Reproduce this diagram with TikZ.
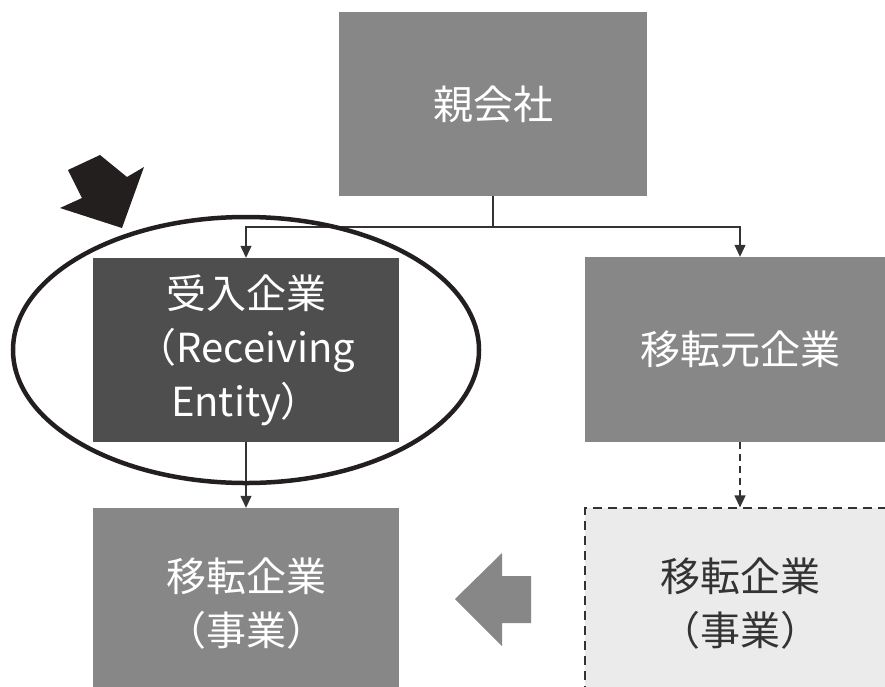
\documentclass[tikz,border=0pt]{standalone}
\usepackage{fontspec}
\setmainfont{Noto Sans CJK JP}
\usetikzlibrary{arrows.meta,shapes.geometric}
\definecolor{midgray}{HTML}{878787}
\definecolor{darkbox}{HTML}{4E4E4E}
\definecolor{lightbox}{HTML}{EBEBEB}
\definecolor{ink}{HTML}{231F1F}
\definecolor{linec}{HTML}{333333}
\tikzset{
  box/.style={rectangle, inner sep=0pt, align=center, text=white,
    font=\fontsize{40}{54}\selectfont},
  conn/.style={draw=linec, line width=1.2pt},
  arr/.style={conn, -{Triangle[width=11pt,length=12pt]}},
}
\begin{document}
\begin{tikzpicture}[x=1pt,y=-1pt]
\clip (0,0) rectangle (885,686);
\fill[white] (0,0) rectangle (885,686);
% boxes
\node[box, fill=midgray, minimum width=308pt, minimum height=184pt] (parent) at (493,104) {親会社};
\node[box, fill=darkbox, minimum width=306pt, minimum height=184pt] (recv) at (246,350) {受入企業\\（Receiving\\Entity）};
\node[box, fill=midgray, minimum width=310pt, minimum height=185pt] (src) at (740,349.5) {移転元企業};
\node[box, fill=midgray, minimum width=306pt, minimum height=192pt] (tgt) at (246,604) {移転企業\\（事業）};
\node[box, fill=lightbox, text=linec, draw=linec, line width=1.2pt, dash pattern=on 9pt off 6pt, minimum width=310pt, minimum height=192pt] (tgtd) at (740,604) {移転企業\\（事業）};
% connectors
\coordinate (j) at (493,227);
\draw[conn] (parent.south) -- (j);
\draw[arr] (j) -| (recv.north);
\draw[arr] (j) -| (src.north);
\draw[arr] (recv.south) -- (tgt.north);
\draw[arr, dash pattern=on 7pt off 5pt] (src.south) -- (tgtd.north);
% ellipse highlight
\node[draw=ink, line width=4.5pt, ellipse, minimum width=466pt, minimum height=266pt, inner sep=0pt] (ring) at (246,350) {};
% black pointer arrow
\fill[ink] (68,170) -- (100,155) -- (127,177) -- (144,167) -- (122,228) -- (60,208) -- (82,198) -- cycle;
% gray transfer arrow
\fill[midgray] (455,599) -- (502,553) -- (502,576) -- (531,576) -- (531,623) -- (502,623) -- (502,646) -- cycle;
\end{tikzpicture}
\end{document}
